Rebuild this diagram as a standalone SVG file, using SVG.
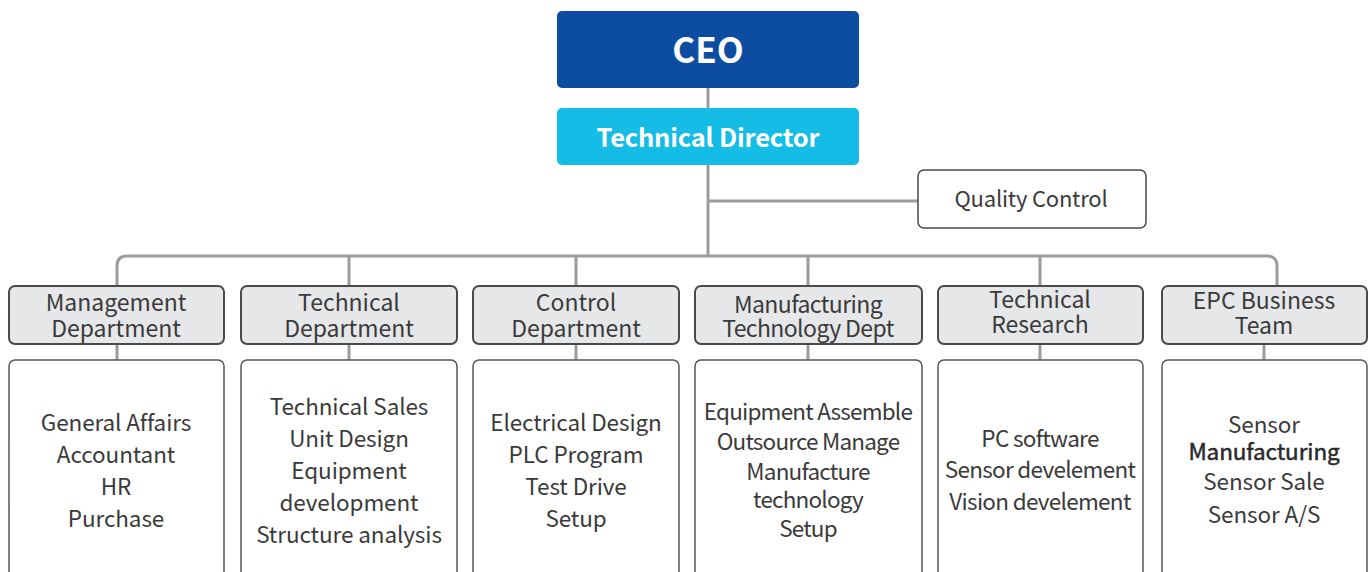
<svg xmlns="http://www.w3.org/2000/svg" width="1372" height="572" viewBox="0 0 1372 572">
<style>
text{font-family:"Noto Sans CJK KR","Noto Sans",sans-serif;text-anchor:middle;fill:#3a3a3a}
.hd{font-size:23px}
.bd{font-size:22.5px;letter-spacing:-0.1px}
.head{fill:#e6e7e9;stroke:#4a4a4a;stroke-width:2}
.body{fill:#fff;stroke:#555;stroke-width:1.5}
.ln{fill:none;stroke:#9c9c9e;stroke-width:3}
</style>
<rect width="1372" height="572" fill="#fff"/>
<g id="connectors">
<path class="ln" d="M708 88V256"/>
<path class="ln" d="M708 201H918"/>
<path class="ln" d="M117 286V266Q117 256 127 256H1267Q1277 256 1277 266V286"/>
<path class="ln" d="M349 256V286M576 256V286M808 256V286M1040 256V286"/>
<path class="ln" d="M117 344V360M349 344V360M576 344V360M808 344V360M1040 344V360M1264 344V360"/>
</g>
<g id="ceo">
<rect x="557" y="11" width="302" height="77" rx="5" fill="#0d4da1"/>
<text x="708" y="63" style="font-size:35px;font-weight:bold;fill:#fff">CEO</text>
</g>
<g id="technical-director">
<rect x="557" y="108" width="302" height="57" rx="5" fill="#14bce6"/>
<text x="708" y="147" style="font-size:25.5px;font-weight:bold;fill:#fff;letter-spacing:-0.2px">Technical Director</text>
</g>
<g id="quality-control">
<rect x="918" y="170" width="228" height="58" rx="6" fill="#fff" stroke="#4a4a4a" stroke-width="1.5"/>
<text x="1031" y="207" style="font-size:22px;letter-spacing:-0.2px">Quality Control</text>
</g>
<g id="management">
<rect class="head" x="9" y="286" width="215" height="58" rx="6"/>
<text class="hd" x="116" y="311">Management</text>
<text class="hd" x="116" y="337">Department</text>
<rect class="body" x="9" y="360" width="215" height="230" rx="6"/>
<text class="bd" x="116"><tspan x="116" y="431">General Affairs</tspan><tspan x="116" y="463">Accountant</tspan><tspan x="116" y="495">HR</tspan><tspan x="116" y="527">Purchase</tspan></text>
</g>
<g id="technical">
<rect class="head" x="241" y="286" width="216" height="58" rx="6"/>
<text class="hd" x="349" y="311">Technical</text>
<text class="hd" x="349" y="337">Department</text>
<rect class="body" x="241" y="360" width="216" height="230" rx="6"/>
<text class="bd" x="349"><tspan x="349" y="415">Technical Sales</tspan><tspan x="349" y="447">Unit Design</tspan><tspan x="349" y="479">Equipment</tspan><tspan x="349" y="511">development</tspan><tspan x="349" y="543">Structure analysis</tspan></text>
</g>
<g id="control">
<rect class="head" x="473" y="286" width="206" height="58" rx="6"/>
<text class="hd" x="576" y="311">Control</text>
<text class="hd" x="576" y="337">Department</text>
<rect class="body" x="473" y="360" width="206" height="230" rx="6"/>
<text class="bd" x="576"><tspan x="576" y="431">Electrical Design</tspan><tspan x="576" y="463">PLC Program</tspan><tspan x="576" y="495">Test Drive</tspan><tspan x="576" y="527">Setup</tspan></text>
</g>
<g id="manufacturing">
<rect class="head" x="695" y="286" width="227" height="58" rx="6"/>
<text class="hd" x="808" y="313" style="letter-spacing:-0.6px">Manufacturing</text>
<text class="hd" x="808" y="337" style="letter-spacing:-0.6px">Technology Dept</text>
<rect class="body" x="695" y="360" width="227" height="230" rx="6"/>
<text class="bd" x="808" style="letter-spacing:-0.8px"><tspan x="808" y="420">Equipment Assemble</tspan><tspan x="808" y="450">Outsource Manage</tspan><tspan x="808" y="480">Manufacture</tspan><tspan x="808" y="508">technology</tspan><tspan x="808" y="537">Setup</tspan></text>
</g>
<g id="technical-research">
<rect class="head" x="938" y="286" width="205" height="58" rx="6"/>
<text class="hd" x="1040" y="308">Technical</text>
<text class="hd" x="1040" y="333">Research</text>
<rect class="body" x="938" y="360" width="205" height="230" rx="6"/>
<text class="bd" x="1040" style="letter-spacing:-0.7px"><tspan x="1040" y="447">PC software</tspan><tspan x="1040" y="478">Sensor develement</tspan><tspan x="1040" y="510">Vision develement</tspan></text>
</g>
<g id="epc">
<rect class="head" x="1162" y="286" width="205" height="58" rx="6"/>
<text class="hd" x="1264" y="309">EPC Business</text>
<text class="hd" x="1264" y="334">Team</text>
<rect class="body" x="1162" y="360" width="205" height="230" rx="6"/>
<text class="bd" x="1264"><tspan x="1264" y="433">Sensor</tspan><tspan x="1264" y="460" style="fill:#2a2a2a;stroke:#2a2a2a;stroke-width:0.5px">Manufacturing</tspan><tspan x="1264" y="490">Sensor Sale</tspan><tspan x="1264" y="523">Sensor A/S</tspan></text>
</g>
</svg>
